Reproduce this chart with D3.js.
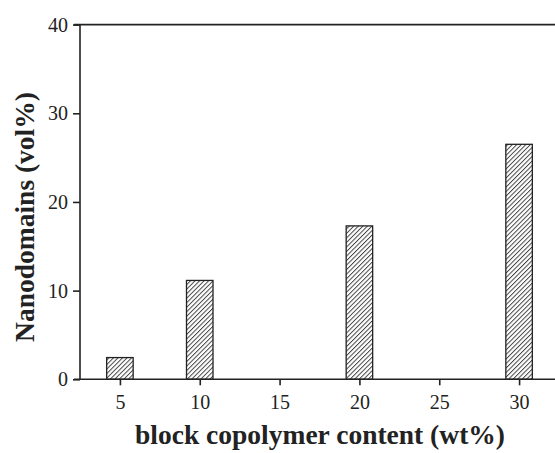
<!DOCTYPE html>
<html>
<head>
<meta charset="utf-8">
<script src="https://cdn.jsdelivr.net/npm/d3@7"></script>
<style>
  body { margin: 0; background: #fff; }
  text { font-family: "Liberation Serif", "Times New Roman", serif; fill: #222; }
</style>
</head>
<body>
<svg id="sg"></svg>
<script>
// bar data
const content = [5, 10, 20, 30];
const nanodomains = [2.45, 11.15, 17.3, 26.5];
const xTicks = [5, 10, 15, 20, 25, 30];
const yTicks = [0, 10, 20, 30, 40];

let svgWidth = 555,
  svgHeight = 453;
let svg = d3.select("#sg").attr("width", svgWidth).attr("height", svgHeight);

let x = d3.scaleLinear().domain([2.5, 32.5]).range([80, 559]);
let y = d3.scaleLinear().domain([0, 40]).range([379.3, 24.6]);
let barW = x(2.5 + 1.66) - x(2.5);

// hatch pattern
let pat = svg.append("defs").append("pattern")
  .attr("id", "hatch")
  .attr("patternUnits", "userSpaceOnUse")
  .attr("width", 3.2)
  .attr("height", 3.2)
  .attr("patternTransform", "rotate(45)");
pat.append("rect").attr("width", 3.2).attr("height", 3.2).attr("fill", "#fff");
pat.append("line")
  .attr("x1", 0.5).attr("y1", 0).attr("x2", 0.5).attr("y2", 3.2)
  .attr("stroke", "#333").attr("stroke-width", 0.9);

// bars
svg.append("g").selectAll("rect")
  .data(content)
  .enter()
  .append("rect")
  .attr("x", (d) => x(d) - barW / 2)
  .attr("y", (d, i) => y(nanodomains[i]))
  .attr("width", barW)
  .attr("height", (d, i) => y(0) - y(nanodomains[i]))
  .attr("fill", "url(#hatch)")
  .attr("stroke", "#222")
  .attr("stroke-width", 1.3);

// x axis (major + minor ticks)
let gx = svg.append("g").attr("transform", "translate(0," + y(0) + ")");
gx.call(d3.axisBottom(x).tickValues(d3.range(2.5, 35, 5)).tickSize(3).tickFormat(""));
gx.call(d3.axisBottom(x).tickValues(xTicks).tickSize(6).tickSizeOuter(0).tickPadding(10));
gx.select(".domain").remove();
gx.append("line").attr("x1", 74).attr("x2", 555).attr("stroke", "#222").attr("stroke-width", 1.6);
gx.selectAll("line").attr("stroke", "#222").attr("stroke-width", 1.6);
gx.selectAll("text").style("font-size", "20px").style("fill", "#222");

// y axis
let gy = svg.append("g").attr("transform", "translate(80,0)");
gy.call(d3.axisLeft(y).tickValues([5, 15, 25, 35]).tickSize(3).tickFormat(""));
gy.call(d3.axisLeft(y).tickValues(yTicks).tickSize(7).tickSizeOuter(0).tickPadding(5));
gy.select(".domain").remove();
gy.append("line").attr("y1", y(0)).attr("y2", y(40)).attr("stroke", "#222").attr("stroke-width", 1.6);
gy.selectAll("line").attr("stroke", "#222").attr("stroke-width", 1.6);
gy.selectAll("text").style("font-size", "20px").style("fill", "#222");

// top frame line
svg.append("line")
  .attr("x1", 74).attr("x2", 555)
  .attr("y1", y(40)).attr("y2", y(40))
  .attr("stroke", "#222").attr("stroke-width", 1.6);

// axis titles
svg.append("text")
  .attr("x", 320).attr("y", 444)
  .attr("text-anchor", "middle")
  .style("font-size", "27.5px").attr("font-weight", "bold")
  .text("block copolymer content (wt%)");

svg.append("text")
  .attr("transform", "translate(34,217) rotate(-90)")
  .attr("text-anchor", "middle")
  .style("font-size", "27.5px").attr("font-weight", "bold")
  .text("Nanodomains (vol%)");
</script>
</body>
</html>
